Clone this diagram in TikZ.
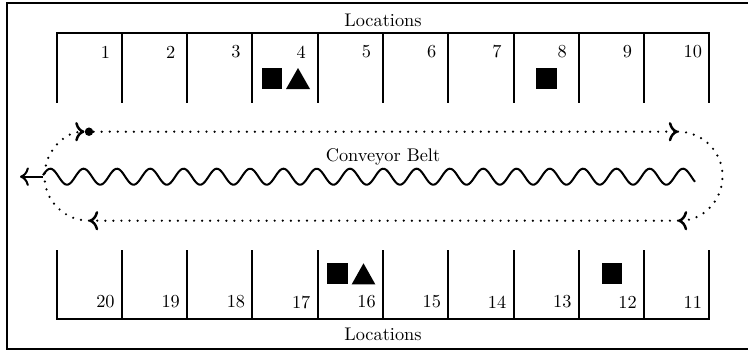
\documentclass[tikz,border=0pt]{standalone}
\usetikzlibrary{arrows.meta}
\begin{document}
\begin{tikzpicture}[x=0.5455pt,y=-0.5455pt,
  wall/.style={line width=1.1pt},
  frame/.style={line width=1.1pt},
  belt/.style={line width=1.1pt},
  loopline/.style={line width=1.35pt, line cap=round, dash pattern=on 0pt off 4.4pt, -{To[scale=1.1]}},
  num/.style={inner sep=1pt},
  lbl/.style={inner sep=1pt},
  item/.style={fill=black}]
\useasboundingbox (0,0) rectangle (748,352);
\draw[frame] (7.3,3) rectangle (755,349.3);
% top compartments
\draw[wall] (56.7,102.7) -- (56.7,33.3) -- (709.3,33.3) -- (709.3,102.7);
\foreach \i in {1,...,9} \draw[wall] ({56.7+65.26*\i},33.3) -- ++(0,69.4);
\foreach \i in {1,...,10} \node[num] (t\i) at ({56.7+65.26*\i-16.5},52) {\i};
% bottom compartments
\draw[wall] (56.7,250) -- (56.7,319) -- (709.3,319) -- (709.3,250);
\foreach \i in {1,...,9} \draw[wall] ({56.7+65.26*\i},319) -- ++(0,-69);
\foreach \i [evaluate=\i as \lab using int(21-\i)] in {1,...,10}
  \node[num] (b\i) at ({56.7+65.26*\i-16.5},302) {\lab};
% labels
\node[lbl] (loctop) at (383,20) {Locations};
\node[lbl] (locbot) at (383,334) {Locations};
\node[lbl] (beltlbl) at (383,157) {Conveyor Belt};
% items
\fill[item] (261.7,68) rectangle (282.3,89);
\fill[item] (286,89) -- (310,89) -- (298,68) -- cycle;
\fill[item] (536,68) rectangle (556.6,89);
\fill[item] (327.3,263.3) rectangle (347.9,284.3);
\fill[item] (351.7,284.3) -- (375.3,284.3) -- (363.5,263.3) -- cycle;
\fill[item] (601.7,263.3) rectangle (622.3,284.3);
% conveyor belt
\draw[belt] plot[domain=0:652, samples=500] ({43+\x},{176.7-8*sin(10.8108*(\x+1))});
\coordinate (wstart) at (43,176.7);
\coordinate (wend) at (20,176.7);
\draw[belt, -{To[scale=1.2]}] (wstart) -- (wend);
% loop
\node[circle, fill=black, inner sep=0pt, minimum size=4.6pt] (dot) at (89,131.7) {};
\coordinate (tr) at (678,131.7);
\coordinate (br) at (678,220.7);
\coordinate (bl) at (89,220.7);
\draw[loopline] (dot) -- (tr);
\draw[loopline] (tr) .. controls (702.6,131.7) and (722.5,151.6) .. (722.5,176.2) .. controls (722.5,200.8) and (702.6,220.7) .. (br);
\draw[loopline] (br) -- (bl);
\draw[loopline] (bl) .. controls (64.4,220.7) and (44.5,200.8) .. (44.5,176.2) .. controls (44.5,151.6) and (64.4,131.7) .. (dot);
\end{tikzpicture}
\end{document}
